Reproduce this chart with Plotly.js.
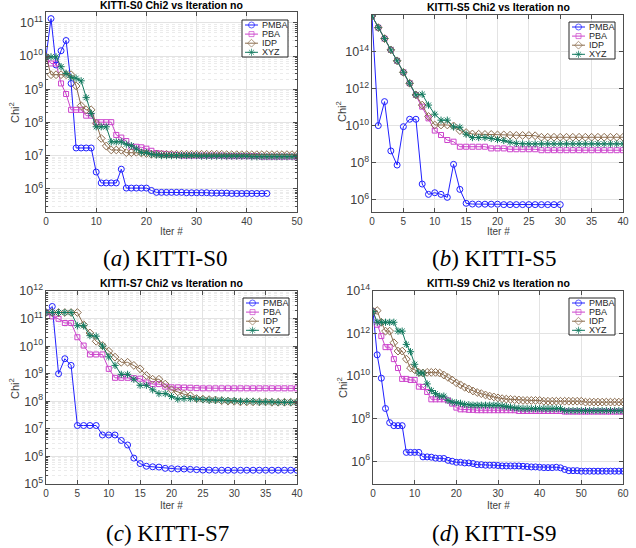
<!DOCTYPE html>
<html>
<head>
<meta charset="utf-8">
<script src="https://cdn.plot.ly/plotly-3.0.1.min.js"></script>
<style>html,body{margin:0;padding:0;background:#fff;}#chart{width:636px;height:548px;}</style>
</head>
<body>
<div id="chart"></div>
<script>
// ---------- Data (Chi2 per iteration) ----------
const seriesNames = ["PMBA", "PBA", "IDP", "XYZ"];
const panelTitles = ["KITTI-S0 Chi2 vs Iteration no", "KITTI-S5 Chi2 vs Iteration no", "KITTI-S7 Chi2 vs Iteration no", "KITTI-S9 Chi2 vs Iteration no"];
const captions = ["(<i>a</i>) KITTI-S0", "(<i>b</i>) KITTI-S5", "(<i>c</i>) KITTI-S7", "(<i>d</i>) KITTI-S9"];

// KITTI-S0
const s0_PMBA = [9.5e9,1.35e11,5.4e9,1.45e10,2.95e10,1.5e9,1.7e7,1.7e7,1.7e7,1.7e7,3.2e6,1.5e6,1.5e6,1.5e6,1.5e6,3.9e6,1.05e6,1.05e6,1.05e6,1.05e6,1.05e6,8.9e5,7.8e5,7.8e5,7.8e5,7.8e5,7.8e5,7.8e5,7.6e5,7.6e5,7.6e5,7.6e5,7.6e5,7.4e5,7.4e5,7.4e5,7.4e5,7.2e5,7.2e5,7.2e5,7.2e5,7.2e5,7.2e5,7.2e5,7.2e5];
const s0_PBA = [9.5e9,6e9,6e9,1.5e9,7.2e8,2.4e8,2.4e8,2.4e8,1.6e8,1.6e8,1.02e8,1.02e8,1.02e8,1.02e8,4.2e7,3.5e7,2.75e7,1.85e7,1.85e7,1.78e7,1.62e7,1.4e7,1.2e7,1.15e7,1.1e7,1.07e7,1.05e7,1.0e7,1.0e7,1.0e7,1.0e7,1.0e7,1.0e7,1.0e7,1.0e7,1.0e7,9.6e6,9.6e6,9.6e6,9.6e6,9.6e6,9.6e6,9.6e6,9.3e6,9.3e6,9.3e6,9.3e6,9.3e6,9.3e6,9.3e6,9.3e6];
const s0_IDP = [9.5e9,2.75e9,2.75e9,2.75e9,2.75e9,2.75e9,1.26e9,3.2e8,2.4e8,2.4e8,9.3e7,3.3e7,1.95e7,1.48e7,1.48e7,1.45e7,1.23e7,1.23e7,1.26e7,1.2e7,1.15e7,1.1e7,1.1e7,1.1e7,1.1e7,1.1e7,1.1e7,1.1e7,1.1e7,1.1e7,1.1e7,1.1e7,1.1e7,1.1e7,1.1e7,1.1e7,1.07e7,1.07e7,1.07e7,1.07e7,1.07e7,1.07e7,1.07e7,1.07e7,1.07e7,1.07e7,1.07e7,1.07e7,1.07e7,1.07e7,1.07e7];
const s0_XYZ = [9.5e9,9.5e9,9.5e9,4.8e9,3e9,2.3e9,2.15e9,1.8e9,5.6e8,1.85e8,7.4e7,7.4e7,7.4e7,2.6e7,2.6e7,2.6e7,2.2e7,2e7,1.6e7,1.26e7,1.23e7,1.1e7,1.05e7,1.0e7,1.0e7,1.0e7,1.0e7,1.0e7,1.0e7,1.0e7,1.0e7,9.6e6,9.6e6,9.6e6,9.6e6,9.6e6,9.6e6,9.6e6,9.6e6,9.6e6,9.6e6,9.3e6,9.3e6,9.3e6,9.3e6,9.3e6,9.3e6,9.3e6,9.3e6,9.3e6,9.3e6];

// KITTI-S5
const s5_PMBA = [8.3e15,1.02e10,2e11,4.4e8,7.6e7,8.9e9,2.24e10,2.24e10,7.2e6,2e6,2.45e6,2e6,1.38e6,8.3e7,3.7e6,6.6e5,6e5,5.9e5,5.9e5,5.9e5,5.9e5,5.6e5,5.6e5,5.6e5,5.6e5,5.6e5,5.6e5,5.6e5,5.6e5,5.6e5,5.6e5];
const s5_PBA = [8.3e15,1.95e15,5e14,1.23e14,3.16e13,7.6e12,1.95e12,4.6e11,1.07e11,2.5e10,5.5e9,3.16e9,1.7e9,1.38e9,7.4e8,7.4e8,7.4e8,7.4e8,7.4e8,6e8,6e8,6e8,5.4e8,5.4e8,5.4e8,5.4e8,5.4e8,4.8e8,4.8e8,4.8e8,4.8e8,4.8e8,4.8e8,4.8e8,4.8e8,4.8e8,4.8e8,4.8e8,4.8e8,4.8e8,4.8e8];
const s5_IDP = [8.3e15,1.95e15,5e14,1.23e14,3.16e13,7.6e12,1.95e12,4.6e11,1.3e11,3.16e10,1.1e10,1.1e10,1.1e10,9.8e9,5.5e9,4.3e9,3.6e9,3.5e9,3.4e9,3.4e9,3.2e9,3.2e9,3.1e9,3.0e9,3.0e9,3.0e9,2.9e9,2.4e9,2.4e9,2.4e9,2.4e9,2.4e9,2.4e9,2.4e9,2.4e9,2.4e9,2.4e9,2.4e9,2.4e9,2.4e9,2.4e9];
const s5_XYZ = [8.3e15,1.95e15,5e14,1.23e14,3.16e13,7.6e12,1.95e12,4.6e11,5e11,1.3e11,4.2e10,2e10,2e10,8.7e9,8.3e9,3.5e9,2.3e9,2.3e9,2.3e9,2.05e9,1.8e9,1.6e9,1.3e9,1.12e9,1.05e9,1.05e9,1.05e9,1.05e9,1.05e9,1.05e9,1.05e9,1.05e9,1.05e9,1.05e9,1.05e9,1.05e9,1.05e9,1.05e9,1.05e9,1.05e9,1.05e9];

// KITTI-S7
const s7_PMBA = [1.66e11,2.75e11,1e9,3.5e9,2e9,1.32e7,1.32e7,1.32e7,1.32e7,6e6,6e6,6e6,3.8e6,2.6e6,8.7e5,5.5e5,4.4e5,4.2e5,4.1e5,3.7e5,3.6e5,3.5e5,3.5e5,3.4e5,3.3e5,3.2e5,3.2e5,3.16e5,3.16e5,3.16e5,3.16e5,3.16e5,3.16e5,3.16e5,3.16e5,3.16e5,3.16e5,3.16e5,3.16e5,3.16e5,3.16e5];
const s7_PBA = [1.66e11,1.2e11,9.8e10,6.9e10,6.9e10,2.1e10,1.05e10,5e9,5e9,5e9,1.5e9,7.1e8,7.1e8,7.1e8,6.9e8,6.6e8,4.8e8,4.2e8,4.2e8,3.4e8,3.2e8,3.2e8,3.15e8,3.1e8,3e8,2.95e8,2.95e8,2.95e8,2.95e8,2.95e8,2.95e8,2.95e8,2.95e8,2.95e8,2.95e8,2.95e8,2.95e8,2.95e8,2.95e8,2.95e8,2.95e8];
const s7_IDP = [1.66e11,1.66e11,1.66e11,1.66e11,1.66e11,1.66e11,6e10,3e10,1.5e10,1.05e10,6.6e9,4e9,2.6e9,2.6e9,2e9,1.5e9,8.7e8,6.3e8,6.3e8,4.2e8,2.6e8,2.2e8,1.8e8,1.6e8,1.26e8,1.2e8,1.15e8,1.12e8,1.05e8,1.02e8,1.0e8,9.5e7,9.5e7,9.5e7,9.5e7,9.5e7,9.2e7,9.2e7,9.2e7,9.2e7,9.2e7];
const s7_XYZ = [1.66e11,1.66e11,1.66e11,1.66e11,1.66e11,5.5e10,5.5e10,2.4e10,2.3e10,1e10,4.1e9,2e9,9.5e8,9.5e8,6.3e8,3.8e8,3.8e8,2.6e8,1.9e8,1.9e8,1.48e8,1.2e8,1.26e8,1.26e8,1.2e8,1.15e8,1.1e8,1.1e8,1.1e8,1.05e8,1.05e8,1.0e8,1.0e8,1.0e8,9.5e7,9.5e7,9.5e7,9.2e7,9.2e7,9.2e7,9.2e7];

// KITTI-S9
const s9_PMBA = [1.1e13,1e11,8e9,3e8,6.5e7,4.7e7,4.7e7,4.7e7,2.6e6,2.6e6,2.6e6,2.6e6,1.6e6,1.6e6,1.55e6,1.4e6,1.35e6,1.35e6,1.1e6,1e6,8.9e5,8.9e5,8.3e5,8.3e5,7.8e5,6.9e5,6.9e5,6.5e5,6.5e5,6.5e5,6.3e5,6e5,6e5,6e5,6e5,6e5,5.8e5,5.6e5,5.4e5,5.4e5,5.2e5,5e5,5e5,5e5,5.2e5,4.9e5,4.1e5,3.6e5,3.6e5,3.6e5,3.4e5,3.4e5,3.4e5,3.4e5,3.4e5,3.4e5,3.4e5,3.4e5,3.4e5,3.4e5,3.4e5];
const s9_PBA = [1.1e13,2.6e12,7.6e11,2.3e11,2.3e11,6.3e10,2.4e10,7.4e9,7.4e9,6.6e9,6.6e9,3.2e9,3.1e9,1.8e9,8.1e8,8.1e8,8.1e8,8.1e8,7.2e8,5.1e8,3.3e8,2.75e8,2.75e8,2.6e8,2.6e8,2.5e8,2.5e8,2.5e8,2.5e8,2.5e8,2.5e8,2.5e8,2.5e8,2.5e8,2.5e8,2.3e8,2.3e8,2.3e8,2.3e8,2.3e8,2.3e8,2.3e8,2.3e8,2.3e8,2.3e8,2.3e8,2.15e8,2.15e8,2.15e8,2.15e8,2.15e8,2.15e8,2.15e8,2.15e8,2.15e8,2.15e8,2.15e8,2.15e8,2.15e8,2.15e8,2.15e8];
const s9_IDP = [1.1e13,1.2e13,3.4e12,1.3e12,1.3e12,3.7e11,1.5e11,1.5e11,6.3e10,2.4e10,2e10,1.5e10,1.4e10,1.5e10,1.5e10,1.5e10,1.4e10,1.12e10,8.7e9,6.6e9,4.8e9,3.9e9,3e9,2.5e9,2e9,1.7e9,1.5e9,1.3e9,1.15e9,1.05e9,9.5e8,8.7e8,8.3e8,8.1e8,7.8e8,7.6e8,7.2e8,7.2e8,7.2e8,7.2e8,7.2e8,6.6e8,6.6e8,6.6e8,6.6e8,6.6e8,6.6e8,6.6e8,6.6e8,6.6e8,6.6e8,6e8,6e8,6e8,6e8,6e8,6e8,6e8,6e8,6e8,6e8];
const s9_XYZ = [1.1e13,3.4e12,3.4e12,3.4e12,3.4e12,3.4e12,1.3e12,1.3e12,3.1e11,1.4e11,3.6e10,1.4e10,1.4e10,4.3e9,2.1e9,1.5e9,1.15e9,1.15e9,7.2e8,6e8,5.6e8,5.3e8,4.7e8,4.5e8,4.3e8,4.3e8,4.3e8,4.3e8,4.3e8,4.3e8,4.3e8,4e8,3.7e8,3.5e8,3.2e8,3.1e8,2.95e8,2.95e8,2.95e8,2.95e8,2.95e8,2.95e8,2.95e8,2.95e8,2.95e8,2.95e8,2.4e8,2.4e8,2.4e8,2.4e8,2.4e8,2.4e8,2.4e8,2.4e8,2.4e8,2.4e8,2.4e8,2.4e8,2.4e8,2.4e8,2.4e8];

const panels = [
  [s0_PMBA, s0_PBA, s0_IDP, s0_XYZ],
  [s5_PMBA, s5_PBA, s5_IDP, s5_XYZ],
  [s7_PMBA, s7_PBA, s7_IDP, s7_XYZ],
  [s9_PMBA, s9_PBA, s9_IDP, s9_XYZ]
];

// ---------- Styles ----------
const colors = ["#2020ff", "#cc44cc", "#8c6d4f", "#137a5f"];
const symbols = ["circle-open", "square-open", "diamond-open", "asterisk-open"];
const msize = [6, 5, 6, 6];
const FONT = "Liberation Sans, Arial, Helvetica, sans-serif";
const W = 636, H = 548;

const boxes = [ // px: left, right, top, bottom
  [46, 297, 12, 212],
  [372, 623, 15, 212],
  [46, 297, 291, 484],
  [373, 623, 291, 484]
];
const yRanges = [[5.3, 11.33], [5.35, 15.97], [5, 12], [4.93, 14]];
const xRanges = [[0, 50], [0, 40], [0, 40], [0, 60]];
const xDticks = [10, 5, 5, 10];
const yDticks = [1, 2, 1, 2];
const minorGrid = [true, false, true, false];
const titlePos = [[171, 5], [498, 7], [171, 283], [498, 283]];
const xlabPos = [[171, 232], [498, 232], [171, 505], [498, 505]];
const ylabPos = [[14, 112], [341, 112], [14, 388], [342, 388]];
const capPos = [[165, 258], [494, 258], [167, 533], [494, 533]];
const legBox = [[242, 288, 20, 57], [569, 615, 22, 59], [243, 289, 298, 335], [569, 615, 298, 335]]; // left,right,top,bottom px

const data = [];
const layout = {
  width: W, height: H,
  margin: {l: 0, r: 0, t: 0, b: 0},
  paper_bgcolor: "#fff", plot_bgcolor: "rgba(0,0,0,0)",
  font: {family: FONT, size: 10, color: "#404040"},
  showlegend: false,
  annotations: []
};

// overlay pixel axes for the hand-drawn legends
const legendTraces = [];

panels.forEach((series, p) => {
  const sfx = p === 0 ? "" : String(p + 1);
  series.forEach((vals, s) => {
    data.push({
      type: "scatter", mode: "lines+markers",
      x: vals.map((_, i) => i), y: vals,
      name: seriesNames[s],
      xaxis: "x" + sfx, yaxis: "y" + sfx,
      line: {color: colors[s], width: 1},
      marker: {symbol: symbols[s], size: msize[s], color: colors[s], line: {color: colors[s], width: 1}},
      hoverinfo: "x+y"
    });
  });
  const b = boxes[p];
  const axBase = {
    showline: true, linecolor: "#4d4d4d", linewidth: 1, mirror: "ticks",
    ticks: "inside", ticklen: 4, tickcolor: "#4d4d4d",
    showgrid: true, gridcolor: "#e3e3e3", gridwidth: 1, zeroline: false,
    tickfont: {family: FONT, size: 10, color: "#404040"}
  };
  layout["xaxis" + sfx] = Object.assign({}, axBase, {
    domain: [b[0] / W, b[1] / W], anchor: "y" + sfx,
    range: xRanges[p], dtick: xDticks[p], tick0: 0
  });
  const yax = Object.assign({}, axBase, {
    domain: [1 - b[3] / H, 1 - b[2] / H], anchor: "x" + sfx,
    type: "log", range: yRanges[p], dtick: yDticks[p],
    exponentformat: "power"
  });
  if (minorGrid[p]) {
    yax.minor = {dtick: "D1", showgrid: true, gridcolor: "#ebebeb", griddash: "dot", ticks: "inside", ticklen: 2, tickcolor: "#4d4d4d"};
  }
  layout["yaxis" + sfx] = yax;

  // legend box (white fill + border)
  const lb = legBox[p];
  legendTraces.push({
    type: "scatter", mode: "lines", xaxis: "x5", yaxis: "y5", hoverinfo: "skip",
    x: [lb[0], lb[1], lb[1], lb[0], lb[0]], y: [lb[2], lb[2], lb[3], lb[3], lb[2]],
    fill: "toself", fillcolor: "#ffffff", line: {color: "#262626", width: 1}
  });
  seriesNames.forEach((nm, s) => {
    const yy = lb[2] + 5 + 9.1 * s;
    legendTraces.push({
      type: "scatter", mode: "lines+markers", xaxis: "x5", yaxis: "y5", hoverinfo: "skip",
      x: [lb[0] + 3, lb[0] + 9.5, lb[0] + 16], y: [yy, yy, yy],
      line: {color: colors[s], width: 1},
      marker: {symbol: symbols[s], size: [0, msize[s], 0], color: colors[s], line: {color: colors[s], width: 1}}
    });
    layout.annotations.push({
      text: nm, xref: "paper", yref: "paper",
      x: (lb[0] + 18) / W, y: 1 - yy / H, xanchor: "left", yanchor: "middle",
      showarrow: false, font: {family: FONT, size: 9, color: "#262626"}
    });
  });

  layout.annotations.push({
    text: "<b>" + panelTitles[p] + "</b>", xref: "paper", yref: "paper",
    x: titlePos[p][0] / W, y: 1 - titlePos[p][1] / H, xanchor: "center", yanchor: "middle",
    showarrow: false, font: {family: FONT, size: 10.5, color: "#000"}
  });
  layout.annotations.push({
    text: "Iter #", xref: "paper", yref: "paper",
    x: xlabPos[p][0] / W, y: 1 - xlabPos[p][1] / H, xanchor: "center", yanchor: "middle",
    showarrow: false, font: {family: FONT, size: 10, color: "#404040"}
  });
  layout.annotations.push({
    text: "Chi<sup>2</sup>", xref: "paper", yref: "paper", textangle: -90,
    x: ylabPos[p][0] / W, y: 1 - ylabPos[p][1] / H, xanchor: "center", yanchor: "middle",
    showarrow: false, font: {family: FONT, size: 11, color: "#404040"}
  });
  layout.annotations.push({
    text: captions[p], xref: "paper", yref: "paper",
    x: capPos[p][0] / W, y: 1 - capPos[p][1] / H, xanchor: "center", yanchor: "middle",
    showarrow: false, font: {family: "Liberation Serif, Times New Roman, serif", size: 23, color: "#000"}
  });
});

layout.xaxis5 = {domain: [0, 1], range: [0, W], visible: false, fixedrange: true, anchor: "y5"};
layout.yaxis5 = {domain: [0, 1], range: [H, 0], visible: false, fixedrange: true, anchor: "x5"};

Plotly.newPlot("chart", data.concat(legendTraces), layout, {displayModeBar: false, staticPlot: true});
</script>
</body>
</html>
